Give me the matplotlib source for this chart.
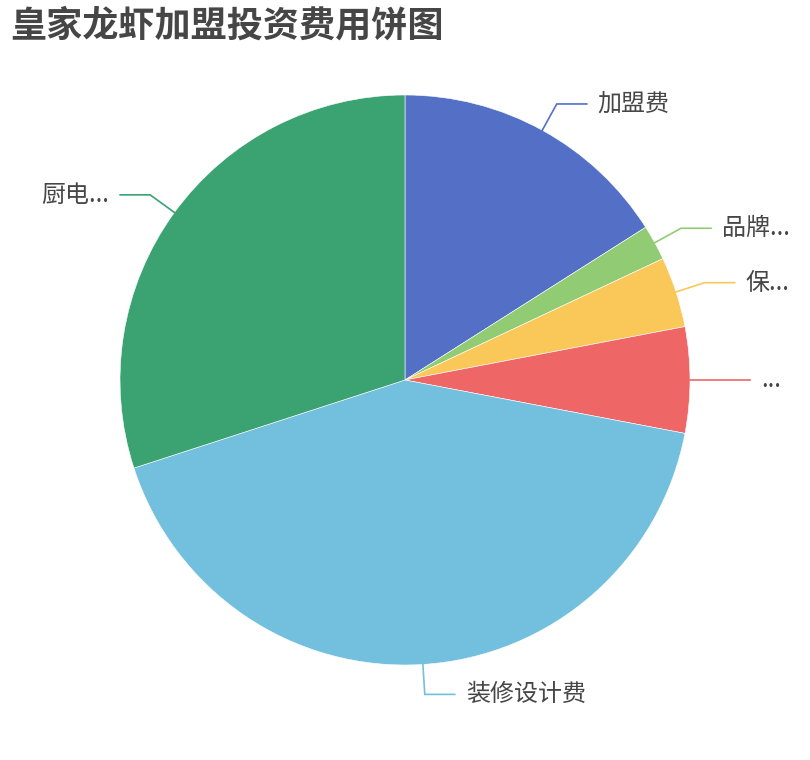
import numpy as np
import matplotlib
matplotlib.use("Agg")
import matplotlib.pyplot as plt

plt.rcParams['font.family'] = ['Noto Sans CJK SC', 'DejaVu Sans']

# data (万元)
names = ['加盟费', '品牌...', '保...', '...', '装修设计费', '厨电...']
values = [16, 2, 4, 6, 42, 30]
colors = ['#5470c6', '#91cc75', '#fac858', '#ee6666', '#73c0de', '#3ba272']
title = '皇家龙虾加盟投资费用饼图'

W, H = 810, 760
cx, cy, R = 405, 380, 285

fig = plt.figure(figsize=(W / 100, H / 100), dpi=100)
ax = fig.add_axes([0, 0, 1, 1])
ax.pie(values, colors=colors, center=(cx, cy), radius=R, startangle=90,
       counterclock=False, frame=True,
       wedgeprops=dict(linewidth=0.4, edgecolor='white'))
ax.set_xlim(0, W)
ax.set_ylim(0, H)
ax.set_aspect('equal')
ax.axis('off')

# label lines: radial piece then a horizontal piece, like echarts
total = float(sum(values))
cum = 0.0
for name, v, c in zip(names, values, colors):
    mid = (cum + v / 2) / total * 2 * np.pi  # clockwise from top
    cum += v
    sx, sy = np.sin(mid), np.cos(mid)
    x0, y0 = cx + R * sx, cy + R * sy
    x1, y1 = cx + (R + 30) * sx, cy + (R + 30) * sy
    side = 1 if sx >= -1e-9 else -1
    x2 = x1 + side * 30
    ax.plot([x0, x1, x2], [y0, y1, y1], color=c, lw=1.2, solid_joinstyle='miter')
    ax.text(x2 + side * 11, y1, name, fontsize=17.3, color='#464646',
            ha='left' if side > 0 else 'right', va='center')

ax.text(10, H - 26, title, fontsize=26, fontweight='bold', color='#464646',
        ha='left', va='center')

fig.savefig('out.png', dpi=100)
